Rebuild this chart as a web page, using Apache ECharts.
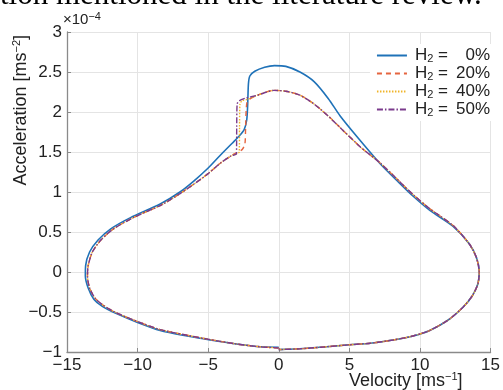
<!DOCTYPE html>
<html><head><meta charset="utf-8">
<script src="https://cdn.jsdelivr.net/npm/echarts@6/dist/echarts.min.js"></script>
<style>html,body{margin:0;padding:0;background:#fff}#c{width:503px;height:390px}</style>
</head><body><div id="c"></div>
<script>
const seriesNames = ['H2 = 0%', 'H2 = 20%', 'H2 = 40%', 'H2 = 50%'];
const legendPct = ['0%', '20%', '40%', '50%'];
const xTicks = [-15, -10, -5, 0, 5, 10, 15];
const yTicks = [-1, -0.5, 0, 0.5, 1, 1.5, 2, 2.5, 3];

// [velocity, acceleration (x1e-4)]
const h0 = [
 [0,-0.94],[-1.3,-0.935],[-3,-0.9],[-4.86,-0.85],[-6.5,-0.8],[-8.4,-0.73],[-10,-0.63],[-11.5,-0.52],
 [-12.5,-0.43],[-13.1,-0.34],[-13.5,-0.2],[-13.7,-0.05],[-13.68,0.08],[-13.4,0.25],[-12.8,0.4],
 [-11.9,0.54],[-10.5,0.68],[-8.4,0.85],[-7,1.0],[-6.0,1.14],[-5,1.3],[-4.14,1.46],[-3.3,1.61],
 [-2.8,1.7],[-2.45,1.78],[-2.27,1.9],[-2.2,2.1],[-2.15,2.35],[-2.05,2.45],[-1.7,2.51],[-1.0,2.56],
 [-0.3,2.58],[0.5,2.57],[1.5,2.5],[2.5,2.38],[3.5,2.17],[4.35,1.95],[5.5,1.7],[7.2,1.35],[8.5,1.12],
 [9.5,0.95],[10.7,0.77],[12.35,0.57],[13.5,0.35],[14.0,0.18],[14.2,0.0],[14.1,-0.15],[13.7,-0.3],
 [13.05,-0.44],[12,-0.6],[10.7,-0.73],[9.5,-0.8],[8.1,-0.85],[6.5,-0.89],[5,-0.91],[3,-0.94],
 [1.5,-0.96],[0,-0.97]
];
const h20 = [
 [0,-0.95],[-1.3,-0.935],[-3,-0.9],[-4.86,-0.845],[-6.5,-0.79],[-8.4,-0.72],[-10,-0.62],[-11.5,-0.51],
 [-12.4,-0.42],[-13.0,-0.33],[-13.4,-0.2],[-13.55,-0.05],[-13.5,0.08],[-13.2,0.25],[-12.6,0.4],
 [-11.7,0.54],[-10.3,0.68],[-8.3,0.84],[-7,0.98],[-6,1.1],[-5,1.23],[-4.14,1.36],[-3.3,1.46],
 [-2.6,1.53],[-2.4,1.6],[-2.35,1.8],[-2.3,2.05],[-2.2,2.14],[-1.5,2.21],[-0.35,2.27],[0.5,2.26],
 [1.5,2.21],[2.5,2.1],[3.5,1.95],[4.55,1.77],[5.8,1.56],[7.2,1.36],[8.5,1.14],[9.5,0.97],[10.7,0.79],
 [12.35,0.58],[13.5,0.35],[14.0,0.18],[14.2,0.0],[14.1,-0.15],[13.7,-0.3],[13.05,-0.44],[12,-0.6],
 [10.7,-0.73],[9.5,-0.8],[8.1,-0.85],[6.5,-0.89],[5,-0.91],[3,-0.94],[1.5,-0.96],[0,-0.97]
];
const h40 = [
 [0,-0.95],[-1.3,-0.935],[-3,-0.9],[-4.86,-0.845],[-6.5,-0.79],[-8.4,-0.72],[-10,-0.62],[-11.5,-0.51],
 [-12.4,-0.42],[-13.0,-0.33],[-13.4,-0.2],[-13.55,-0.05],[-13.5,0.08],[-13.2,0.25],[-12.6,0.4],
 [-11.7,0.54],[-10.3,0.68],[-8.3,0.84],[-7,0.98],[-6,1.1],[-5,1.23],[-4.14,1.36],[-3.3,1.46],
 [-2.8,1.5],[-2.78,1.8],[-2.75,2.1],[-2.6,2.14],[-2.2,2.16],[-1.5,2.21],[-0.35,2.27],[0.5,2.26],
 [1.5,2.21],[2.5,2.1],[3.5,1.95],[4.55,1.77],[5.8,1.56],[7.2,1.36],[8.5,1.14],[9.5,0.97],[10.7,0.79],
 [12.35,0.58],[13.5,0.35],[14.0,0.18],[14.2,0.0],[14.1,-0.15],[13.7,-0.3],[13.05,-0.44],[12,-0.6],
 [10.7,-0.73],[9.5,-0.8],[8.1,-0.85],[6.5,-0.89],[5,-0.91],[3,-0.94],[1.5,-0.96],[0,-0.97]
];
const h50 = [
 [0,-0.95],[-1.3,-0.935],[-3,-0.9],[-4.86,-0.845],[-6.5,-0.79],[-8.4,-0.72],[-10,-0.62],[-11.5,-0.51],
 [-12.4,-0.42],[-13.0,-0.33],[-13.4,-0.2],[-13.55,-0.05],[-13.5,0.08],[-13.2,0.25],[-12.6,0.4],
 [-11.7,0.54],[-10.3,0.68],[-8.3,0.84],[-7,0.98],[-6,1.1],[-5,1.23],[-4.14,1.36],[-3.4,1.45],
 [-3.0,1.48],[-2.98,1.8],[-2.95,2.1],[-2.8,2.14],[-2.4,2.17],[-1.5,2.21],[-0.35,2.27],[0.5,2.26],
 [1.5,2.21],[2.5,2.1],[3.5,1.95],[4.55,1.77],[5.8,1.56],[7.2,1.36],[8.5,1.14],[9.5,0.97],[10.7,0.79],
 [12.35,0.58],[13.5,0.35],[14.0,0.18],[14.2,0.0],[14.1,-0.15],[13.7,-0.3],[13.05,-0.44],[12,-0.6],
 [10.7,-0.73],[9.5,-0.8],[8.1,-0.85],[6.5,-0.89],[5,-0.91],[3,-0.94],[1.5,-0.96],[0,-0.97]
];
const allData = [h0, h20, h40, h50];

const colors = ['#1f72b8', '#e5643f', '#f0b52a', '#7a3a8c'];
const dashes = ['solid', [5, 4], [1.5, 1.5], [6, 2, 1.5, 2]];
const widths = [1.6, 1.4, 1.4, 1.4];
const FONT = '"Liberation Sans", Arial, sans-serif';
const fmtMinus = v => (v < 0 ? '\u2212' + Math.abs(v) : String(v));

const chart = echarts.init(document.getElementById('c'), null, {renderer: 'canvas'});
chart.setOption({
  animation: false,
  backgroundColor: '#fff',
  grid: {left: 67, right: 12, top: 32, bottom: 38},
  xAxis: {
    type: 'value', min: xTicks[0], max: xTicks[xTicks.length - 1], interval: 5,
    axisLine: {show: true, onZero: false, lineStyle: {color: '#8a8a8a', width: 1.3}},
    axisTick: {show: true, inside: true, length: 4, lineStyle: {color: '#8a8a8a'}},
    axisLabel: {color: '#222', fontFamily: FONT, fontSize: 17, margin: 5, formatter: fmtMinus},
    splitLine: {show: true, lineStyle: {color: '#e4e4e4', width: 1}}
  },
  yAxis: {
    type: 'value', min: yTicks[0], max: yTicks[yTicks.length - 1], interval: 0.5,
    axisLine: {show: true, onZero: false, lineStyle: {color: '#8a8a8a', width: 1.3}},
    axisTick: {show: true, inside: true, length: 4, lineStyle: {color: '#8a8a8a'}},
    axisLabel: {color: '#222', fontFamily: FONT, fontSize: 17, margin: 5, formatter: fmtMinus},
    splitLine: {show: true, lineStyle: {color: '#e4e4e4', width: 1}}
  },
  legend: {
    show: true,
    data: seriesNames,
    orient: 'vertical', right: 9, top: 44,
    itemWidth: 30, itemHeight: 12, itemGap: 1,
    backgroundColor: '#fff', padding: [3, 4, 3, 6],
    itemStyle: {color: 'rgba(0,0,0,0)', borderWidth: 0, borderColor: 'rgba(0,0,0,0)'},
    formatter: function (name) {
      const i = seriesNames.indexOf(name);
      return '{h|H}{s|2}{e| =}{v|' + legendPct[i] + '}';
    },
    textStyle: {
      color: '#222', fontFamily: FONT, fontSize: 17,
      rich: {
        h: {fontFamily: FONT, fontSize: 17, color: '#222', lineHeight: 17, padding: [0, 0, 0, 3]},
        s: {fontFamily: FONT, fontSize: 11, color: '#222', lineHeight: 17, verticalAlign: 'bottom'},
        e: {fontFamily: FONT, fontSize: 17, color: '#222', lineHeight: 17},
        v: {fontFamily: FONT, fontSize: 17, color: '#222', lineHeight: 17, width: 42, align: 'right'}
      }
    }
  },
  series: allData.map((d, i) => ({
    name: seriesNames[i], type: 'line', data: d,
    showSymbol: false, symbol: 'none', smooth: 0.25, z: 2 + i,
    lineStyle: {color: colors[i], width: widths[i], type: dashes[i]},
    itemStyle: {color: colors[i]}
  })),
  graphic: [
    {type: 'text', left: 0, top: -20, silent: true,
     style: {text: 'tion mentioned in the literature review.', fontFamily: '"Liberation Serif", "Times New Roman", serif', fontSize: 31, fill: '#000'}},
    {type: 'text', left: 63, top: 11, silent: true,
     style: {text: '\u00d710{sup|\u22124}', fontFamily: FONT, fontSize: 15, fill: '#222',
       rich: {sup: {fontSize: 11, fill: '#222', padding: [0, 0, 7, 0], fontFamily: FONT}}}},
    {type: 'text', left: 349, top: 371, silent: true,
     style: {text: 'Velocity [ms{sup|\u22121}]', fontFamily: FONT, fontSize: 18, fill: '#222',
       rich: {sup: {fontSize: 11, fill: '#222', padding: [0, 0, 9, 0], fontFamily: FONT}}}},
    {type: 'text', left: 11, top: 35, rotation: Math.PI / 2, silent: true,
     style: {text: 'Acceleration [ms{sup|\u22122}]', fontFamily: FONT, fontSize: 18, fill: '#222',
       rich: {sup: {fontSize: 11, fill: '#222', padding: [0, 0, 9, 0], fontFamily: FONT}}}}
  ]
});
</script></body></html>
